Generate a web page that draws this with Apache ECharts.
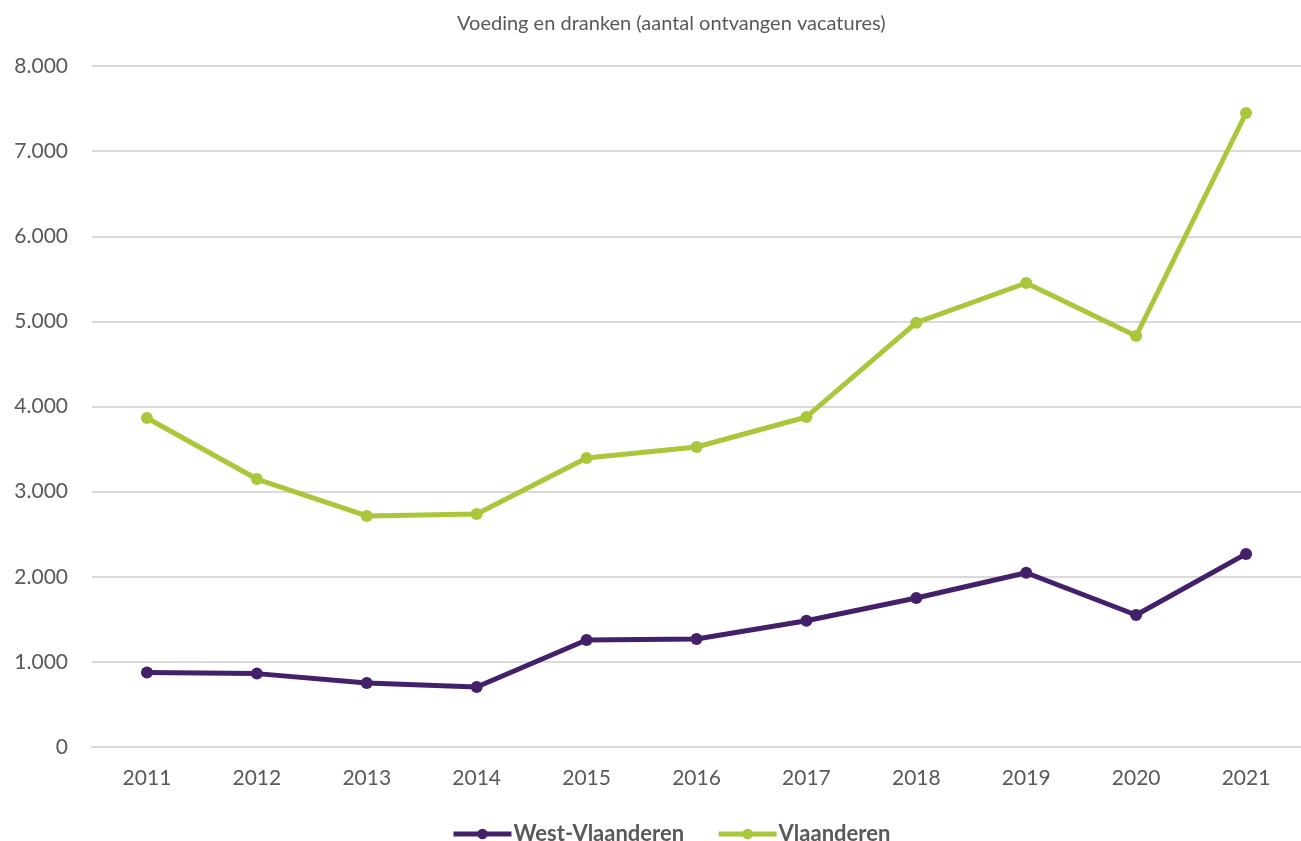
<!DOCTYPE html>
<html><head><meta charset="utf-8">
<script src="https://cdn.jsdelivr.net/npm/echarts@6/dist/echarts.min.js"></script>
<style>html,body{margin:0;padding:0;background:#fff}#c{width:1301px;height:841px}</style>
</head><body><div id="c"></div>
<script>
const years = ['2011','2012','2013','2014','2015','2016','2017','2018','2019','2020','2021'];
const westVlaanderen = [875, 862, 752, 705, 1257, 1269, 1483, 1750, 2047, 1551, 2268];
const vlaanderen = [3865, 3148, 2714, 2737, 3395, 3524, 3877, 4985, 5451, 4828, 7448];
const yTicks = [0, 1000, 2000, 3000, 4000, 5000, 6000, 7000, 8000];

const font = 'Lato, "Open Sans", sans-serif';
const chart = echarts.init(document.getElementById('c'));
chart.setOption({
  animation: false,
  title: { text: 'Voeding en dranken (aantal ontvangen vacatures)', left: 452, top: 9,
    textStyle: { fontFamily: font, fontSize: 20, fontWeight: 'normal', color: '#595959' } },
  legend: { left: 446, top: 818, itemGap: 32, itemWidth: 58, itemHeight: 13,
    lineStyle: { width: 5 },
    textStyle: { fontFamily: font, fontSize: 22, fontWeight: 'bold', color: '#595959', padding: [0, 0, 0, -3] },
    data: ['West-Vlaanderen', 'Vlaanderen'] },
  grid: { left: 92, top: 66, width: 1216, height: 681 },
  xAxis: { type: 'category', data: years, boundaryGap: true,
    axisLine: { lineStyle: { color: '#d9d9d9', width: 2 } }, axisTick: { show: false },
    axisLabel: { fontFamily: font, fontSize: 21, color: '#595959', margin: 21 } },
  yAxis: { type: 'value', min: 0, max: yTicks[yTicks.length - 1], interval: 1000,
    axisLine: { show: false }, axisTick: { show: false },
    splitLine: { lineStyle: { color: '#d9d9d9', width: 2 } },
    axisLabel: { fontFamily: font, fontSize: 21, color: '#595959', margin: 24,
      formatter: v => v === 0 ? '0' : String(v).replace(/\B(?=(\d{3})+(?!\d))/g, '.') } },
  series: [
    { name: 'West-Vlaanderen', type: 'line', data: westVlaanderen, symbol: 'circle', symbolSize: 12,
      itemStyle: { color: '#44206a' }, lineStyle: { color: '#44206a', width: 5 } },
    { name: 'Vlaanderen', type: 'line', data: vlaanderen, symbol: 'circle', symbolSize: 12,
      itemStyle: { color: '#a9c73a' }, lineStyle: { color: '#a9c73a', width: 5 } }
  ]
});
</script></body></html>
